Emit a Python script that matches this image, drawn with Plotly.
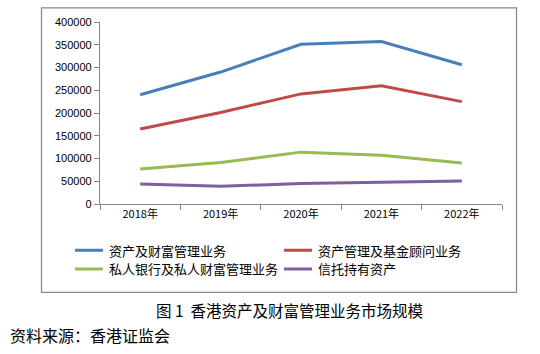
import plotly.graph_objects as go

years = ["2018年", "2019年", "2020年", "2021年", "2022年"]
series_names = ["资产及财富管理业务", "资产管理及基金顾问业务", "私人银行及私人财富管理业务", "信托持有资产"]
awm = [240000, 290000, 351000, 357000, 306000]
am_fund = [165000, 201000, 242000, 260000, 225000]
private_bank = [77000, 91000, 114000, 107000, 90000]
trust = [44000, 39000, 45000, 48000, 50500]
y_ticks = [0, 50000, 100000, 150000, 200000, 250000, 300000, 350000, 400000]
caption = "图 1  香港资产及财富管理业务市场规模"
source = "资料来源：香港证监会"

colors = ["#4A7EBB", "#BE4B48", "#98B954", "#7D60A0"]
values = [awm, am_fund, private_bank, trust]

FONT = "Noto Sans CJK SC"
W, H = 540, 354
L, R, T, B = 100, 502, 21.7, 204.3

def px(x):
    return (x - L) / (R - L)

def py(y):
    return (B - y) / (B - T)

fig = go.Figure()
for name, vals, c in zip(series_names, values, colors):
    fig.add_trace(go.Scatter(x=years, y=vals, mode="lines", name=name,
                             line=dict(color=c, width=3), showlegend=False))

shapes = []
annotations = []
# outer chart border
shapes.append(dict(type="rect", xref="paper", yref="paper",
                   x0=px(41.5), x1=px(516.5), y0=py(293), y1=py(7.5),
                   line=dict(color="#868686", width=1.2), fillcolor="rgba(0,0,0,0)", layer="below"))

# manual legend
leg_pos = [(75, 250.7), (284, 250.7), (75, 269.5), (284, 269.5)]
for (lx, ly), name, c in zip(leg_pos, series_names, colors):
    shapes.append(dict(type="line", xref="paper", yref="paper",
                       x0=px(lx), x1=px(lx + 28), y0=py(ly), y1=py(ly),
                       line=dict(color=c, width=3)))
    annotations.append(dict(xref="paper", yref="paper", x=px(lx + 32), y=py(ly),
                            text=name, showarrow=False, xanchor="left", yanchor="middle",
                            font=dict(family=FONT, size=13, color="#000000")))

annotations.append(dict(xref="paper", yref="paper", x=px(289), y=py(311),
                        text=caption, showarrow=False, xanchor="center", yanchor="middle",
                        font=dict(family=FONT, size=15.5, color="#000000")))
annotations.append(dict(xref="paper", yref="paper", x=px(8), y=py(336),
                        text=source, showarrow=False, xanchor="left", yanchor="middle",
                        font=dict(family=FONT, size=16, color="#000000")))

fig.update_layout(
    width=W, height=H,
    margin=dict(l=L, r=W - R, t=T, b=H - B, pad=0),
    paper_bgcolor="white", plot_bgcolor="white",
    shapes=shapes, annotations=annotations,
    font=dict(family=FONT, size=11, color="#000000"),
    xaxis=dict(range=[-0.5, 4.5], showgrid=False, showline=True, linecolor="#868686",
               linewidth=1.2, ticks="outside", ticklen=5, tickcolor="#868686",
               tickson="boundaries", tickfont=dict(size=11, family=FONT), zeroline=False),
    yaxis=dict(range=[0, 400000], tickvals=y_ticks, showgrid=False, showline=True,
               linecolor="#868686", linewidth=1.2, ticks="outside", ticklen=5,
               tickcolor="#868686", tickformat="d", tickfont=dict(size=11, family="Liberation Sans"),
               zeroline=False),
)
fig.write_html("out.html")
